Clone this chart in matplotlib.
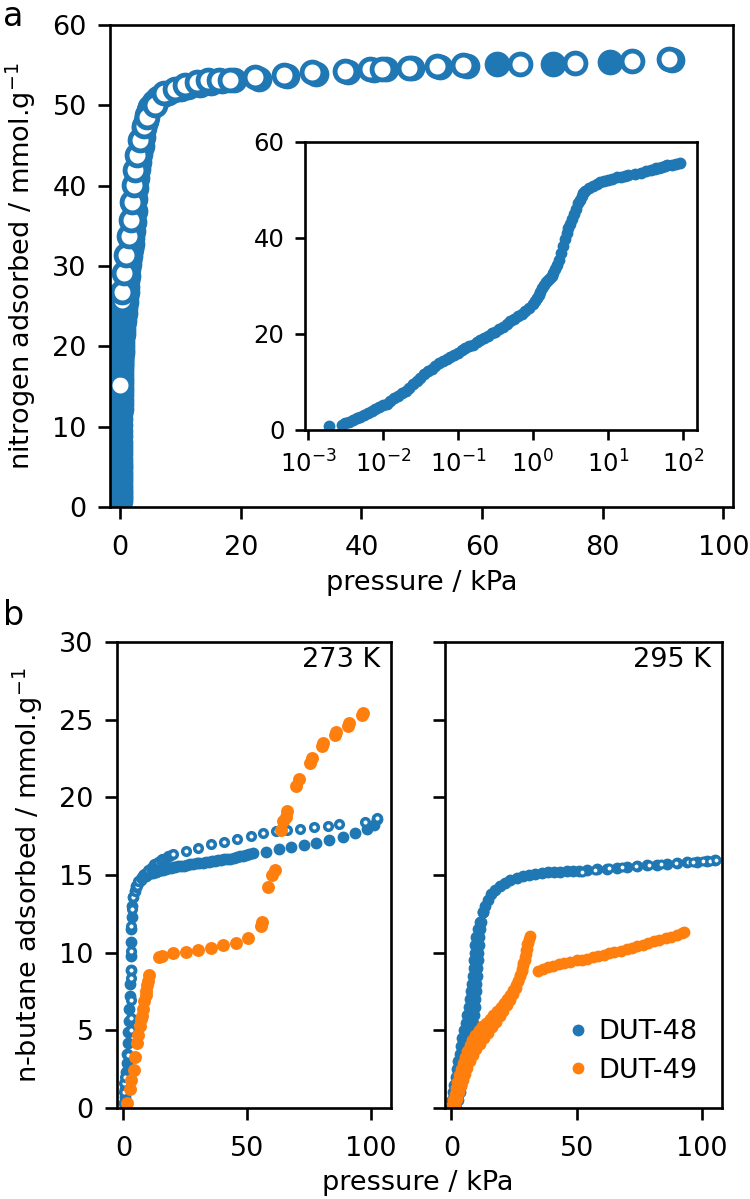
import matplotlib
matplotlib.use("Agg")
import matplotlib.pyplot as plt
from matplotlib.lines import Line2D

# ---------------- data ----------------
# (a) N2 77 K, DUT-48 : adsorption (filled) and desorption (open)
n2_ads_p = [0.00191, 0.00282, 0.00316, 0.00355, 0.00398, 0.00447, 0.00501, 0.00562,
            0.00631, 0.00708, 0.00794, 0.00891, 0.0100, 0.0112, 0.0126, 0.0141,
            0.0158, 0.0178, 0.0200, 0.0224, 0.0251, 0.0282, 0.0316, 0.0355,
            0.0398, 0.0447, 0.0501, 0.0562, 0.0631, 0.0708, 0.0794, 0.0891,
            0.100, 0.112, 0.126, 0.141, 0.158, 0.178, 0.200, 0.224, 0.251,
            0.282, 0.316, 0.355, 0.398, 0.447, 0.501, 0.562, 0.631, 0.708,
            0.794, 0.891, 1.00, 1.06, 1.12, 1.19, 1.26, 1.33, 1.41, 1.50,
            1.58, 1.68, 1.78, 1.88, 2.00, 2.11, 2.24, 2.37, 2.51, 2.66,
            2.82, 2.99, 3.16, 3.35, 3.55, 3.76, 3.98, 4.22, 4.47, 4.73,
            5.01, 5.6, 6.31, 7.1, 7.94, 8.9, 10.0,
            11.3, 13.2, 15.0, 16.9, 18.8, 23.0, 27.6, 32.4, 37.8, 42.0,
            44.0, 48.4, 53.0, 57.5, 62.4, 71.8, 81.2, 91.5]
n2_ads_n = [0.8, 1.1, 1.4, 1.7, 2.0, 2.4, 2.8, 3.2,
            3.6, 4.0, 4.4, 4.8, 5.1, 5.5, 6.0, 6.6,
            7.1, 7.6, 8.1, 8.8, 9.5, 10.2, 10.9, 11.6,
            12.2, 12.8, 13.3, 13.9, 14.4, 14.8, 15.3, 15.7,
            16.1, 16.6, 17.0, 17.4, 17.8, 18.3, 18.7, 19.2, 19.6,
            20.1, 20.5, 21.0, 21.5, 22.0, 22.6, 23.2, 23.7, 24.2,
            24.8, 25.5, 26.2, 26.8, 27.4, 28.1, 28.8, 29.6, 30.3, 30.8,
            31.3, 31.7, 32.1, 32.7, 33.5, 34.4, 35.5, 36.8, 38.3, 39.7,
            41.0, 42.1, 43.0, 44.0, 45.0, 46.1, 47.2, 48.0, 48.8, 49.4,
            49.8, 50.4, 50.9, 51.3, 51.6, 51.9, 52.1,
            52.3, 52.6, 52.8, 53.0, 53.1, 53.3, 53.6, 53.9, 54.2, 54.4,
            54.5, 54.6, 54.8, 54.9, 55.1, 55.2, 55.4, 55.7]

n2_des_p = [0.03,
            0.06, 0.07, 0.08, 0.09, 0.10, 0.11, 0.12, 0.13, 0.14, 0.15, 0.16,
            0.17, 0.18, 0.19, 0.20, 0.21, 0.22, 0.23, 0.24, 0.25, 0.26,
            0.28, 0.55, 1.0, 1.4, 1.8, 2.0, 2.2, 2.5, 2.8, 3.3, 3.9, 4.4, 5.8,
            7.2, 9.1, 10.8, 12.7, 14.6, 16.3, 18.2, 22.4, 27.1, 31.8,
            37.3, 41.4, 43.4, 47.8, 52.5, 56.9, 66.3, 75.4, 84.8, 91.0]
n2_des_n = [15.2,
            17.8, 18.2, 18.6, 19.0, 19.4, 19.8, 20.2, 20.6, 21.0, 21.4, 21.8,
            22.2, 22.6, 23.0, 23.4, 23.8, 24.2, 24.6, 25.0, 25.4, 25.8,
            26.8, 29.1, 31.4, 33.7, 35.7, 38.0, 40.1, 42.0, 43.8, 45.7, 47.4, 48.6, 50.1,
            51.5, 52.1, 52.6, 52.9, 53.1, 53.2, 53.2, 53.5, 53.8, 54.1,
            54.3, 54.5, 54.5, 54.7, 54.9, 55.0, 55.2, 55.3, 55.5, 55.8]

# (b) n-butane, 273 K
d48_273_ads_p = [0.3, 0.5, 0.7, 0.9, 1.1, 1.3, 1.5, 1.7, 1.9, 2.1, 2.3, 2.5, 2.7, 2.9,
                 3.0, 3.1, 3.2, 3.3, 3.5, 3.9, 4.5, 5.2, 6.0, 7.0, 8.0, 9.0, 10.0, 11.0,
                 12.0, 13.0, 14.0, 15.0, 16.0, 17.0, 18.0, 19.0, 20.0, 21.0, 22.0, 23.2,
                 24.5, 25.7, 27.0, 28.2, 29.5, 30.7, 32.0, 33.2, 34.5, 35.7,
                 37.0, 38.2, 39.5, 40.7, 42.0, 43.2, 44.5, 45.7, 47.0, 48.2, 49.5, 50.8,
                 52.3, 57.4, 62.7, 67.7, 72.7,
                 77.8, 83.1, 88.5, 93.6, 98.5, 101.0, 102.5]
d48_273_ads_n = [0.3, 0.7, 1.2, 1.7, 2.3, 2.9, 3.5, 4.2, 4.9, 5.6, 6.4, 7.2, 8.0, 8.9,
                 9.8, 10.7, 11.5, 12.3, 13.0, 13.6, 14.0, 14.3, 14.5, 14.7, 14.85, 14.95, 15.05, 15.1,
                 15.15, 15.2, 15.25, 15.3, 15.35, 15.4, 15.45, 15.48, 15.5, 15.52, 15.55, 15.58,
                 15.6, 15.64, 15.68, 15.71, 15.74, 15.77, 15.8, 15.83, 15.86, 15.89,
                 15.92, 15.95, 15.98, 16.0, 16.03, 16.06, 16.08, 16.13, 16.2, 16.25, 16.3, 16.35,
                 16.4, 16.5, 16.65, 16.78, 16.93,
                 17.08, 17.26, 17.47, 17.73, 17.94, 18.2, 18.6]
d48_273_des_p = [0.1, 0.4, 0.8, 1.7, 3.0, 3.1, 3.1, 3.1, 3.1, 3.1, 3.1, 3.3, 3.9,
                 4.5, 5.0, 5.5, 6.0, 7.0, 7.5, 8.0, 8.5, 9.0, 9.8, 10.0, 11.0, 12.0,
                 12.5, 13.0, 14.0, 15.0, 15.5, 16.0, 17.0, 18.0, 18.5, 19.0, 20.2,
                 25.4, 30.2, 35.4, 40.6, 45.7, 51.3, 56.3, 61.4, 66.0, 71.1, 77.1,
                 82.5, 87.1, 97.6, 102.5]
d48_273_des_n = [1.0, 1.6, 2.0, 3.4, 5.0, 5.77, 6.95, 8.35, 8.9, 10.1, 11.7, 12.8, 13.6,
                 14.0, 14.2, 14.3, 14.6, 14.8, 14.85, 15.0, 15.05, 15.15, 15.2, 15.3, 15.45, 15.6,
                 15.7, 15.72, 15.85, 15.95, 16.0, 16.05, 16.12, 16.2, 16.22, 16.28, 16.35,
                 16.57, 16.75, 17.0, 17.15, 17.3, 17.5, 17.69, 17.8, 17.9, 17.97, 18.07,
                 18.16, 18.29, 18.43, 18.65]
d49_273_p = [1.5, 2.5, 3.2, 4.1, 4.8, 5.5, 6.0, 6.5, 7.0, 7.5, 8.0, 8.5, 9.0, 9.2,
             9.7, 10.0, 10.2, 14.5, 15.5, 20.2, 25.3, 30.2, 35.3, 40.3, 45.4, 50.3,
             55.5, 56.0, 58.4, 60.1, 61.0, 63.7, 64.5, 65.5, 66.0, 69.8, 70.8, 75.3,
             76.0, 80.0, 80.6, 85.6, 86.0, 90.7, 91.0, 96.3, 96.8]
d49_273_n = [0.3, 1.2, 1.8, 2.45, 3.3, 4.17, 4.7, 5.3, 5.7, 5.9, 6.4, 6.9, 7.3, 7.5,
             7.9, 8.2, 8.56, 9.75, 9.8, 9.96, 10.06, 10.17, 10.28, 10.5, 10.6, 10.93,
             11.7, 11.95, 14.25, 15.0, 15.35, 17.9, 18.5, 18.76, 19.1, 20.7, 21.2, 22.2,
             22.5, 23.3, 23.5, 24.0, 24.2, 24.6, 24.8, 25.3, 25.45]

# (b) n-butane, 295 K
d48_295_ads_p = [0.0, 0.4, 0.8, 1.2, 1.7, 2.2, 2.7, 3.2, 3.7, 4.3, 4.9, 5.6, 6.2, 6.9,
                 7.4, 7.9, 8.3, 8.6, 8.8, 9.0, 9.2, 9.5, 9.9, 10.5, 11.3, 12.5, 13.5,
                 14.4, 15.8, 17.4, 19.2, 21.2, 23.5, 26.0, 28.5, 31.0, 33.5, 36.0, 38.5,
                 41.0, 43.5, 46.0, 48.5, 51.0, 54.0, 58.0, 62.0, 66.0, 70.0, 74.0, 78.0,
                 82.0, 86.0, 90.0, 94.0, 98.0, 102.0, 105.0,
                 2.0, 2.6, 3.2, 3.8, 4.4, 5.0, 5.6, 6.2, 6.9, 7.4, 8.0, 8.5, 8.9, 9.2,
                 9.4, 9.6, 9.8, 10.0, 10.2, 10.4, 10.6, 10.8, 11.0, 11.3, 11.8, 12.6]
d48_295_ads_n = [0.0, 0.5, 1.0, 1.5, 2.0, 2.5, 3.0, 3.5, 4.0, 4.5, 5.0, 5.5, 6.0, 6.5,
                 7.0, 7.5, 8.0, 8.5, 9.0, 9.5, 10.0, 10.5, 11.0, 11.5, 12.0, 12.6, 13.0,
                 13.4, 13.75, 14.05, 14.3, 14.5, 14.68, 14.83, 14.95, 15.03, 15.08, 15.12, 15.16,
                 15.19, 15.21, 15.23, 15.25, 15.27, 15.3, 15.36, 15.41, 15.46, 15.51, 15.57, 15.62,
                 15.67, 15.71, 15.76, 15.81, 15.86, 15.91, 15.96,
                 0.0, 0.5, 1.0, 1.5, 2.0, 2.5, 3.0, 3.5, 4.0, 4.5, 5.0, 5.5, 6.0, 6.5,
                 7.0, 7.5, 8.0, 8.5, 9.0, 9.5, 10.0, 10.5, 11.0, 11.5, 12.0, 12.6]
d48_295_des_p = [52.1, 57.4, 62.8, 68.1, 73.5, 78.8, 83.8, 89.6, 94.3, 96.5, 100.3, 103.0, 105.5]
d48_295_des_n = [15.22, 15.33, 15.43, 15.5, 15.58, 15.65, 15.7, 15.75, 15.82, 15.84, 15.9, 15.93, 15.97]
d49_295_p = [0.3, 0.8, 1.3, 1.8, 2.4, 3.0, 3.7, 4.5, 5.3, 6.2, 7.2, 8.3, 9.5, 10.8,
             12.2, 13.7, 15.2, 16.7, 18.2, 19.6, 21.0, 22.3, 23.5, 24.6, 25.6, 26.5,
             27.3, 28.0, 28.6, 29.2, 29.7, 30.2, 30.6, 31.0, 31.3,
             1.5, 2.2, 2.9, 3.6, 4.4, 5.3, 6.3, 7.4, 8.6, 9.9, 11.3, 12.8, 14.4, 16.0,
             17.6, 19.2, 20.7, 22.1, 23.4, 24.6, 25.7, 26.6, 27.4, 28.1, 28.7, 29.3,
             29.8, 30.3,
             34.6, 36.5, 38.5, 40.7, 43.0, 45.0, 47.4, 50.0, 52.0, 54.0, 56.5, 58.5,
             60.7, 63.0, 65.0, 67.5, 70.0, 72.0, 74.2, 76.5, 78.5, 80.8, 83.0, 85.5,
             87.6, 90.0, 92.0, 92.9]
d49_295_n = [0.1, 0.5, 0.9, 1.3, 1.7, 2.1, 2.5, 2.9, 3.3, 3.7, 4.05, 4.4, 4.7, 5.0,
             5.25, 5.5, 5.75, 6.0, 6.25, 6.5, 6.75, 7.0, 7.3, 7.6, 7.9, 8.2,
             8.5, 8.85, 9.2, 9.55, 9.9, 10.25, 10.6, 10.9, 11.1,
             0.2, 0.6, 1.0, 1.4, 1.8, 2.2, 2.6, 3.0, 3.4, 3.8, 4.15, 4.5, 4.85, 5.2,
             5.55, 5.9, 6.25, 6.6, 6.95, 7.35, 7.75, 8.15, 8.55, 8.95, 9.35, 9.75,
             10.15, 10.55,
             8.85, 8.95, 9.05, 9.15, 9.25, 9.32, 9.4, 9.5, 9.55, 9.62, 9.7, 9.78,
             9.85, 9.95, 10.03, 10.1, 10.22, 10.32, 10.42, 10.52, 10.62, 10.72, 10.82, 10.93,
             11.02, 11.15, 11.25, 11.3]

series_labels = ["DUT-48", "DUT-49"]
temps = ["273 K", "295 K"]

# ---------------- style ----------------
BLUE = "#1f77b4"
ORANGE = "#ff7f0e"
FS = 19.5
LW = 1.9
plt.rcParams["font.family"] = ["DejaVu Sans"]
plt.rcParams["axes.linewidth"] = LW

fig = plt.figure(figsize=(7.5, 11.99), dpi=100)


def style(ax, fs=FS, length=8.4):
    ax.tick_params(which="major", length=length, width=LW, labelsize=fs, pad=8.4)
    ax.tick_params(axis="x", which="major", pad=11.5)


# ---- panel a ----
ax = fig.add_axes([0.1467, 0.5771, 0.8306, 0.402])
ax.plot(n2_ads_p, n2_ads_n, "o", ls="none", ms=15, mfc=BLUE, mec=BLUE, mew=3.5)
ax.plot(n2_des_p, n2_des_n, "o", ls="none", ms=15, mfc="white", mec=BLUE, mew=3.5)
ax.set_xlim(-1.7, 101.6)
ax.set_ylim(0, 60)
ax.set_xticks([0, 20, 40, 60, 80, 100])
ax.set_yticks([0, 10, 20, 30, 40, 50, 60])
style(ax)
ax.set_xlabel("pressure / kPa", fontsize=FS, labelpad=7)
ax.set_ylabel("nitrogen adsorbed / mmol.g$^{-1}$", fontsize=FS, labelpad=10)

# inset
axi = fig.add_axes([0.4067, 0.6414, 0.5226, 0.2402])
axi.plot(n2_ads_p, n2_ads_n, "o", ls="none", ms=7, mfc=BLUE, mec=BLUE, mew=1.5)
axi.set_xscale("log")
axi.set_xlim(10 ** -3.04, 10 ** 2.19)
axi.set_ylim(0, 60)
axi.set_yticks([0, 20, 40, 60])
axi.set_xticks([1e-3, 1e-2, 1e-1, 1e0, 1e1, 1e2])
axi.tick_params(which="major", length=7.2, width=LW, labelsize=17.5, pad=7.5)
axi.tick_params(which="minor", length=4.3, width=1.4)

# ---- panel b ----
axl = fig.add_axes([0.156, 0.0759, 0.3653, 0.3887])
axr = fig.add_axes([0.5933, 0.0759, 0.3694, 0.3887], sharey=axl)

axl.plot(d48_273_ads_p, d48_273_ads_n, "o", ls="none", ms=6.5, mfc=BLUE, mec=BLUE, mew=2)
axl.plot(d48_273_des_p, d48_273_des_n, "o", ls="none", ms=5.5, mfc="white", mec=BLUE, mew=2.5)
axl.plot(d49_273_p, d49_273_n, "o", ls="none", ms=7.5, mfc=ORANGE, mec=ORANGE, mew=1.8)

axr.plot(d48_295_ads_p, d48_295_ads_n, "o", ls="none", ms=6.5, mfc=BLUE, mec=BLUE, mew=2)
axr.plot(d48_295_des_p, d48_295_des_n, "o", ls="none", ms=5, mfc="white", mec=BLUE, mew=2.2)
axr.plot(d49_295_p, d49_295_n, "o", ls="none", ms=6.5, mfc=ORANGE, mec=ORANGE, mew=2)

for a, t in zip((axl, axr), temps):
    a.set_xlim(-2.6, 108)
    a.set_ylim(0, 30)
    a.set_xticks([0, 50, 100])
    a.set_yticks([0, 5, 10, 15, 20, 25, 30])
    style(a)
    a.text(0.96, 0.99, t, transform=a.transAxes, ha="right", va="top", fontsize=FS)
axr.tick_params(labelleft=False)
axl.set_ylabel("n-butane adsorbed / mmol.g$^{-1}$", fontsize=FS, labelpad=10)

handles = [Line2D([], [], ls="none", marker="o", ms=7.5, mfc=c, mec=c) for c in (BLUE, ORANGE)]
axr.legend(handles, series_labels, loc="lower right", frameon=False, fontsize=FS,
           handletextpad=0.25, labelspacing=0.45, borderaxespad=0.5, handlelength=1.0)

fig.text(0.557, 0.0075, "pressure / kPa", ha="center", va="baseline", fontsize=FS)
fig.text(0.004, 0.978, "a", fontsize=24, va="baseline", ha="left")
fig.text(0.004, 0.479, "b", fontsize=24, va="baseline", ha="left")

fig.savefig("out.png", dpi=100)
